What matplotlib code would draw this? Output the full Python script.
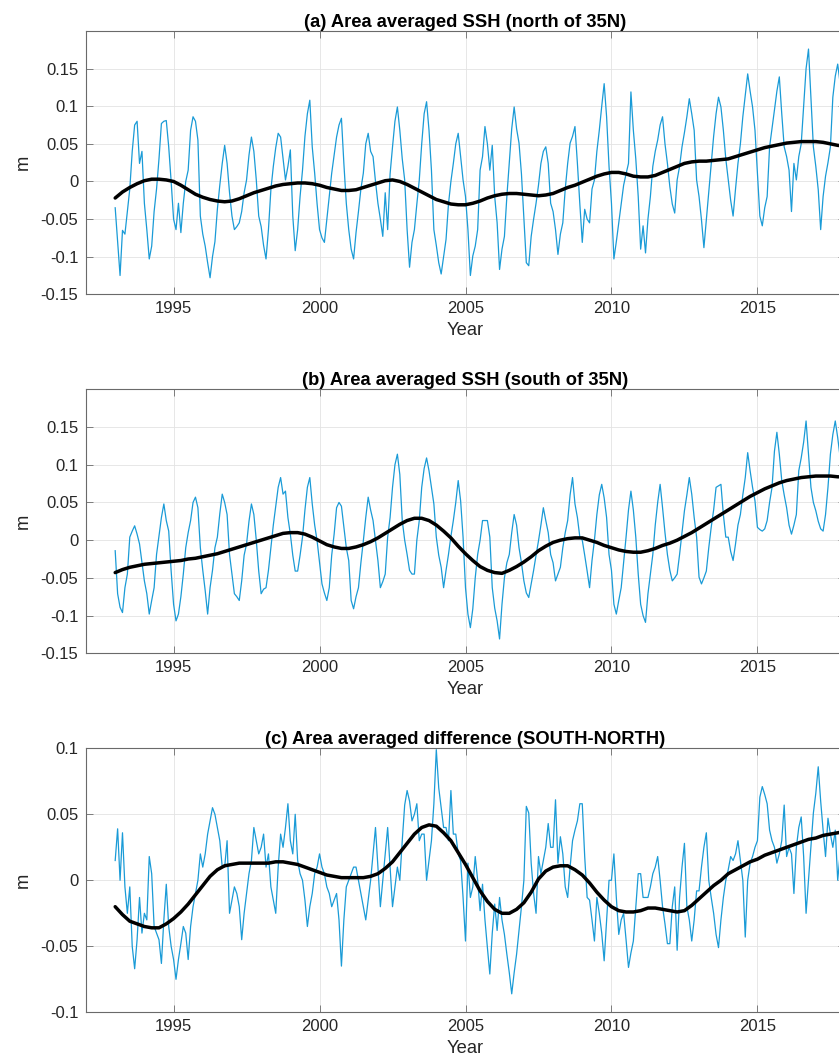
import numpy as np
import matplotlib
matplotlib.use("Agg")
import matplotlib.pyplot as plt

plt.rcParams['font.family'] = ['Liberation Sans', 'DejaVu Sans']
plt.rcParams['axes.unicode_minus'] = False

# ---------------- data (monthly, Jan 1993 .. Dec 2017) ----------------
start_year = 1993
north_ssh = [
    -0.035, -0.080, -0.125, -0.065, -0.070, -0.040, -0.010, 0.040, 0.075, 0.080, 0.024, 0.040,   # 1993
    -0.029, -0.064, -0.103, -0.086, -0.040, -0.010, 0.030, 0.077, 0.080, 0.081, 0.046, 0.000,    # 1994
    -0.050, -0.064, -0.029, -0.068, -0.029, 0.000, 0.015, 0.068, 0.086, 0.080, 0.055, -0.046,    # 1995
    -0.070, -0.086, -0.108, -0.128, -0.100, -0.080, -0.037, -0.005, 0.024, 0.048, 0.024, -0.015, # 1996
    -0.046, -0.064, -0.060, -0.055, -0.040, -0.015, 0.002, 0.035, 0.059, 0.040, 0.002, -0.046,   # 1997
    -0.060, -0.085, -0.103, -0.064, -0.011, 0.020, 0.045, 0.064, 0.059, 0.030, 0.002, 0.020,     # 1998
    0.042, -0.046, -0.092, -0.064, -0.020, 0.015, 0.060, 0.090, 0.108, 0.046, 0.011, -0.030,     # 1999
    -0.064, -0.075, -0.081, -0.050, -0.020, 0.011, 0.035, 0.059, 0.075, 0.084, 0.024, -0.029,    # 2000
    -0.064, -0.090, -0.103, -0.068, -0.040, -0.010, 0.011, 0.050, 0.064, 0.040, 0.033, 0.000,    # 2001
    -0.029, -0.050, -0.073, -0.015, -0.064, 0.010, 0.046, 0.080, 0.099, 0.068, 0.030, 0.002,     # 2002
    -0.064, -0.114, -0.081, -0.064, -0.030, 0.002, 0.050, 0.090, 0.106, 0.068, 0.015, -0.064,    # 2003
    -0.085, -0.108, -0.123, -0.100, -0.077, -0.030, 0.000, 0.024, 0.050, 0.064, 0.033, 0.002,    # 2004
    -0.020, -0.064, -0.125, -0.099, -0.086, -0.064, 0.015, 0.033, 0.073, 0.050, 0.015, 0.048,    # 2005
    -0.020, -0.055, -0.117, -0.090, -0.073, -0.020, 0.024, 0.070, 0.099, 0.070, 0.051, 0.010,    # 2006
    -0.050, -0.108, -0.112, -0.073, -0.050, -0.029, -0.005, 0.024, 0.040, 0.046, 0.024, -0.029,  # 2007
    -0.040, -0.064, -0.097, -0.070, -0.055, -0.010, 0.024, 0.051, 0.060, 0.073, 0.024, -0.030,   # 2008
    -0.081, -0.037, -0.050, -0.055, -0.010, 0.002, 0.040, 0.068, 0.100, 0.130, 0.086, 0.020,     # 2009
    -0.029, -0.103, -0.080, -0.055, -0.030, -0.005, 0.010, 0.024, 0.119, 0.068, 0.030, -0.020,   # 2010
    -0.090, -0.059, -0.095, -0.050, -0.020, 0.020, 0.040, 0.055, 0.075, 0.086, 0.050, 0.024,     # 2011
    -0.007, -0.030, -0.042, 0.002, 0.020, 0.046, 0.065, 0.086, 0.110, 0.090, 0.068, 0.002,       # 2012
    -0.020, -0.051, -0.088, -0.051, -0.015, 0.024, 0.060, 0.090, 0.112, 0.099, 0.068, 0.030,     # 2013
    0.002, -0.025, -0.046, -0.010, 0.024, 0.050, 0.086, 0.115, 0.143, 0.120, 0.099, 0.068,       # 2014
    0.010, -0.046, -0.059, -0.035, -0.020, 0.046, 0.070, 0.095, 0.120, 0.139, 0.090, 0.046,      # 2015
    0.033, 0.015, -0.040, 0.024, 0.002, 0.033, 0.050, 0.099, 0.150, 0.176, 0.112, 0.046,         # 2016
    0.020, -0.011, -0.064, -0.020, 0.007, 0.025, 0.046, 0.112, 0.140, 0.156, 0.130, 0.090,       # 2017
]
south_ssh = [
    -0.014, -0.071, -0.089, -0.096, -0.063, -0.045, 0.004, 0.012, 0.019, 0.008, -0.005, -0.030,  # 1993
    -0.054, -0.071, -0.098, -0.080, -0.063, -0.019, 0.005, 0.030, 0.048, 0.026, 0.012, -0.041,   # 1994
    -0.085, -0.107, -0.098, -0.075, -0.045, -0.010, 0.010, 0.026, 0.050, 0.057, 0.043, -0.010,   # 1995
    -0.040, -0.067, -0.098, -0.063, -0.040, -0.010, 0.004, 0.035, 0.061, 0.050, 0.034, -0.019,   # 1996
    -0.045, -0.071, -0.075, -0.080, -0.054, -0.020, -0.005, 0.025, 0.048, 0.034, 0.000, -0.041,  # 1997
    -0.071, -0.065, -0.063, -0.040, -0.010, 0.020, 0.045, 0.070, 0.083, 0.061, 0.065, 0.030,     # 1998
    0.008, -0.020, -0.041, -0.041, -0.020, 0.004, 0.040, 0.070, 0.083, 0.048, 0.020, -0.001,     # 1999
    -0.030, -0.058, -0.070, -0.080, -0.063, -0.020, 0.008, 0.043, 0.050, 0.045, 0.017, -0.010,   # 2000
    -0.027, -0.080, -0.091, -0.075, -0.063, -0.030, -0.001, 0.030, 0.057, 0.040, 0.026, 0.000,   # 2001
    -0.027, -0.063, -0.055, -0.045, 0.004, 0.030, 0.070, 0.100, 0.114, 0.087, 0.026, 0.000,      # 2002
    -0.019, -0.040, -0.045, -0.045, 0.000, 0.026, 0.070, 0.095, 0.109, 0.092, 0.070, 0.048,      # 2003
    0.004, -0.020, -0.036, -0.063, -0.040, -0.019, 0.005, 0.026, 0.050, 0.079, 0.052, 0.004,     # 2004
    -0.063, -0.098, -0.116, -0.091, -0.050, -0.019, 0.000, 0.026, 0.026, 0.026, 0.004, -0.063,   # 2005
    -0.090, -0.107, -0.131, -0.085, -0.050, -0.030, -0.019, 0.010, 0.034, 0.020, -0.010, -0.030, # 2006
    -0.054, -0.070, -0.076, -0.058, -0.040, -0.020, -0.001, 0.020, 0.043, 0.026, 0.010, -0.019,  # 2007
    -0.030, -0.054, -0.045, -0.036, -0.010, 0.010, 0.026, 0.060, 0.083, 0.048, 0.030, 0.004,     # 2008
    0.000, -0.020, -0.041, -0.063, -0.027, 0.000, 0.034, 0.060, 0.074, 0.056, 0.030, -0.019,     # 2009
    -0.040, -0.085, -0.098, -0.080, -0.063, -0.030, 0.004, 0.040, 0.065, 0.040, 0.004, -0.045,   # 2010
    -0.085, -0.100, -0.109, -0.071, -0.045, -0.019, 0.020, 0.050, 0.074, 0.043, 0.010, -0.019,   # 2011
    -0.040, -0.054, -0.050, -0.045, -0.019, 0.010, 0.039, 0.060, 0.083, 0.061, 0.030, 0.004,     # 2012
    -0.049, -0.058, -0.050, -0.041, -0.010, 0.017, 0.040, 0.070, 0.072, 0.074, 0.034, 0.004,     # 2013
    0.004, -0.015, -0.027, -0.005, 0.020, 0.034, 0.060, 0.083, 0.116, 0.092, 0.070, 0.052,       # 2014
    0.017, 0.014, 0.012, 0.015, 0.026, 0.050, 0.070, 0.118, 0.143, 0.114, 0.079, 0.060,          # 2015
    0.043, 0.020, 0.008, 0.020, 0.034, 0.092, 0.109, 0.130, 0.158, 0.114, 0.070, 0.050,          # 2016
    0.039, 0.025, 0.015, 0.012, 0.034, 0.070, 0.114, 0.140, 0.158, 0.136, 0.110, 0.080,          # 2017
]
diff_ssh = [
    0.015, 0.039, 0.000, 0.036, -0.005, -0.025, -0.005, -0.050, -0.067, -0.045, -0.013, -0.040,  # 1993
    -0.025, -0.030, 0.018, 0.005, -0.035, -0.040, -0.045, -0.063, -0.030, -0.003, -0.035, -0.050, # 1994
    -0.060, -0.075, -0.060, -0.048, -0.035, -0.040, -0.060, -0.035, -0.020, -0.010, 0.000, 0.020, # 1995
    0.010, 0.020, 0.035, 0.045, 0.055, 0.050, 0.040, 0.030, 0.010, 0.010, 0.030, -0.025,          # 1996
    -0.015, -0.005, -0.010, -0.020, -0.045, -0.025, -0.010, 0.005, 0.015, 0.040, 0.030, 0.020,    # 1997
    0.025, 0.035, 0.010, 0.020, -0.005, -0.015, -0.025, 0.010, 0.035, 0.025, 0.040, 0.058,        # 1998
    0.030, 0.020, 0.050, 0.015, 0.005, 0.000, -0.015, -0.035, -0.020, -0.010, 0.005, 0.010,       # 1999
    0.020, 0.010, 0.005, -0.005, -0.010, -0.020, -0.015, -0.010, -0.030, -0.065, -0.030, -0.005,  # 2000
    0.000, 0.005, 0.010, 0.010, 0.000, -0.010, -0.020, -0.030, -0.015, 0.000, 0.020, 0.040,       # 2001
    0.010, -0.020, 0.000, 0.020, 0.040, 0.010, -0.020, -0.005, 0.010, 0.000, 0.030, 0.057,       # 2002
    0.068, 0.060, 0.045, 0.050, 0.058, 0.030, 0.035, 0.035, 0.000, 0.015, 0.030, 0.058,           # 2003
    0.099, 0.070, 0.055, 0.040, 0.040, 0.030, 0.068, 0.035, 0.035, 0.020, 0.015, -0.013,         # 2004
    -0.046, 0.013, -0.013, -0.005, 0.018, 0.000, -0.023, -0.003, -0.030, -0.051, -0.071, -0.040,  # 2005
    -0.018, -0.038, -0.013, -0.030, -0.041, -0.056, -0.070, -0.086, -0.070, -0.056, -0.038, -0.020, # 2006
    0.000, 0.056, 0.051, 0.013, -0.010, -0.025, 0.018, 0.005, 0.015, 0.025, 0.043, 0.025,         # 2007
    0.025, 0.061, 0.013, 0.033, 0.020, -0.005, -0.013, 0.010, 0.030, 0.038, 0.045, 0.058,         # 2008
    0.058, 0.018, -0.013, -0.015, -0.030, -0.046, -0.013, -0.025, -0.040, -0.061, -0.030, 0.000,  # 2009
    0.000, 0.020, -0.013, -0.041, -0.030, -0.025, -0.045, -0.066, -0.055, -0.046, -0.020, 0.005,  # 2010
    0.005, -0.013, -0.013, -0.013, -0.005, 0.005, 0.010, 0.018, 0.000, -0.020, -0.033, -0.048,   # 2011
    -0.048, -0.020, -0.005, -0.053, -0.013, 0.010, 0.028, -0.020, -0.030, -0.046, -0.030, -0.008, # 2012
    -0.008, 0.010, 0.025, 0.036, 0.000, -0.013, -0.025, -0.041, -0.051, -0.030, -0.013, 0.000,    # 2013
    0.008, 0.018, 0.015, 0.020, 0.030, 0.015, 0.000, -0.043, 0.000, 0.013, 0.018, 0.025,          # 2014
    0.030, 0.063, 0.071, 0.065, 0.058, 0.038, 0.030, 0.025, 0.013, 0.020, 0.030, 0.057,           # 2015
    0.018, 0.025, 0.020, -0.010, 0.025, 0.040, 0.048, 0.018, -0.025, 0.000, 0.025, 0.051,         # 2016
    0.066, 0.086, 0.060, 0.038, 0.018, 0.047, 0.035, 0.025, 0.038, 0.000, 0.020, 0.030,           # 2017
]

# low-pass (smoothed) curves, every quarter year 1993.0 .. 2018.0
smooth_start, smooth_step = 1993.0, 0.25
north_smooth = [
    -0.022, -0.014, -0.008, -0.003, 0.001, 0.003, 0.003, 0.002,      # 1993-94
    0.000, -0.005, -0.011, -0.017, -0.021, -0.024, -0.026, -0.027,   # 1995-96
    -0.026, -0.023, -0.019, -0.015, -0.012, -0.009, -0.006, -0.004,  # 1997-98
    -0.003, -0.002, -0.002, -0.003, -0.005, -0.008, -0.010, -0.012,  # 1999-00
    -0.012, -0.011, -0.008, -0.005, -0.002, 0.001, 0.002, 0.000,     # 2001-02
    -0.004, -0.009, -0.014, -0.019, -0.024, -0.027, -0.030, -0.031,  # 2003-04
    -0.031, -0.029, -0.026, -0.022, -0.019, -0.017, -0.016, -0.016,  # 2005-06
    -0.017, -0.018, -0.019, -0.018, -0.016, -0.012, -0.008, -0.005,  # 2007-08
    -0.001, 0.003, 0.007, 0.010, 0.012, 0.012, 0.010, 0.007,         # 2009-10
    0.006, 0.006, 0.008, 0.012, 0.016, 0.020, 0.024, 0.026,          # 2011-12
    0.027, 0.027, 0.028, 0.029, 0.030, 0.033, 0.036, 0.039,          # 2013-14
    0.042, 0.045, 0.047, 0.049, 0.051, 0.052, 0.053, 0.053,          # 2015-16
    0.053, 0.052, 0.050, 0.048, 0.047,                               # 2017-18
]
south_smooth = [
    -0.043, -0.039, -0.036, -0.034, -0.032, -0.031, -0.030, -0.029,  # 1993-94
    -0.028, -0.027, -0.025, -0.024, -0.022, -0.020, -0.018, -0.015,  # 1995-96
    -0.012, -0.009, -0.006, -0.003, 0.000, 0.003, 0.006, 0.009,      # 1997-98
    0.010, 0.010, 0.008, 0.004, -0.001, -0.006, -0.009, -0.011,      # 1999-00
    -0.011, -0.009, -0.006, -0.002, 0.003, 0.009, 0.015, 0.021,      # 2001-02
    0.026, 0.029, 0.029, 0.026, 0.020, 0.012, 0.003, -0.008,         # 2003-04
    -0.018, -0.027, -0.035, -0.040, -0.043, -0.044, -0.040, -0.035,  # 2005-06
    -0.029, -0.022, -0.014, -0.008, -0.003, 0.000, 0.002, 0.003,     # 2007-08
    0.003, 0.000, -0.003, -0.007, -0.010, -0.013, -0.015, -0.016,    # 2009-10
    -0.016, -0.014, -0.011, -0.007, -0.004, 0.000, 0.005, 0.010,     # 2011-12
    0.016, 0.022, 0.028, 0.034, 0.040, 0.046, 0.052, 0.058,          # 2013-14
    0.063, 0.068, 0.072, 0.076, 0.079, 0.081, 0.083, 0.084,          # 2015-16
    0.085, 0.085, 0.085, 0.084, 0.084,                               # 2017-18
]
diff_smooth = [
    -0.020, -0.026, -0.031, -0.033, -0.035, -0.036, -0.036, -0.033,  # 1993-94
    -0.029, -0.024, -0.018, -0.011, -0.004, 0.003, 0.008, 0.011,     # 1995-96
    0.012, 0.013, 0.013, 0.013, 0.013, 0.013, 0.014, 0.014,          # 1997-98
    0.013, 0.012, 0.010, 0.008, 0.006, 0.004, 0.003, 0.002,          # 1999-00
    0.002, 0.002, 0.002, 0.003, 0.005, 0.009, 0.014, 0.021,          # 2001-02
    0.028, 0.035, 0.040, 0.042, 0.041, 0.036, 0.030, 0.021,          # 2003-04
    0.012, 0.002, -0.008, -0.016, -0.022, -0.025, -0.025, -0.022,    # 2005-06
    -0.017, -0.009, 0.001, 0.007, 0.010, 0.011, 0.011, 0.008,        # 2007-08
    0.004, -0.002, -0.009, -0.015, -0.020, -0.023, -0.024, -0.024,   # 2009-10
    -0.023, -0.021, -0.021, -0.022, -0.023, -0.024, -0.023, -0.019,  # 2011-12
    -0.014, -0.009, -0.004, 0.000, 0.005, 0.008, 0.011, 0.014,       # 2013-14
    0.016, 0.019, 0.021, 0.023, 0.025, 0.027, 0.029, 0.031,          # 2015-16
    0.032, 0.034, 0.035, 0.036, 0.037,                               # 2017-18
]

titles = ["(a) Area averaged SSH (north of 35N)",
          "(b) Area averaged SSH (south of 35N)",
          "(c) Area averaged difference (SOUTH-NORTH)"]
x_ticks = [1995, 2000, 2005, 2010, 2015]
y_ticks_ssh = [-0.15, -0.1, -0.05, 0, 0.05, 0.1, 0.15]
y_labels_ssh = ["-0.15", "-0.1", "-0.05", "0", "0.05", "0.1", "0.15"]
y_ticks_diff = [-0.1, -0.05, 0, 0.05, 0.1]
y_labels_diff = ["-0.1", "-0.05", "0", "0.05", "0.1"]

# ---------------- figure ----------------
W, H = 839, 1059
fig = plt.figure(figsize=(W / 100, H / 100), dpi=100)

BLUE = '#1a9bd7'
SPINE = '#6a6a6a'
TXT = '#262626'

left, width = 86 / W, 759 / W
panels = [
    dict(box=(31, 294.3), raw=north_ssh, sm=north_smooth, ylim=(-0.15, 0.2),
         yt=y_ticks_ssh, yl=y_labels_ssh),
    dict(box=(389.3, 653.3), raw=south_ssh, sm=south_smooth, ylim=(-0.15, 0.2),
         yt=y_ticks_ssh, yl=y_labels_ssh),
    dict(box=(748.3, 1012.3), raw=diff_ssh, sm=diff_smooth, ylim=(-0.1, 0.1),
         yt=y_ticks_diff, yl=y_labels_diff),
]

for p, title in zip(panels, titles):
    top, bot = p['box']
    ax = fig.add_axes([left, (H - bot) / H, width, (bot - top) / H])
    t_raw = start_year + np.arange(len(p['raw'])) / 12.0
    t_sm = smooth_start + smooth_step * np.arange(len(p['sm']))
    ax.plot(t_raw, p['raw'], color=BLUE, lw=0.9, zorder=2)
    ax.plot(t_sm, p['sm'], color='black', lw=2.5, zorder=3,
            solid_capstyle='round', solid_joinstyle='round')
    ax.set_xlim(1992, 2018)
    ax.set_ylim(*p['ylim'])
    ax.set_xticks(x_ticks)
    ax.set_xticklabels([str(v) for v in x_ticks])
    ax.set_yticks(p['yt'])
    ax.set_yticklabels(p['yl'])
    ax.grid(True, color='#e3e3e3', lw=0.6, zorder=0)
    ax.set_axisbelow(True)
    for s in ax.spines.values():
        s.set_color(SPINE)
        s.set_linewidth(0.8)
    ax.tick_params(axis='both', which='both', direction='in', length=5, width=0.6,
                   color=SPINE, labelcolor=TXT, labelsize=12, top=True, right=True)
    ax.tick_params(axis='x', pad=5)
    ax.tick_params(axis='y', pad=5.5)
    ax.set_xlabel('Year', fontsize=13.2, color=TXT, labelpad=4)
    ax.set_ylabel('m', fontsize=13.2, color=TXT)
    ax.yaxis.set_label_coords(-0.072, 0.5)
    ax.set_title(title, fontsize=13.2, fontweight='bold', color='black', pad=2.5)

fig.savefig('out.png', dpi=100)
